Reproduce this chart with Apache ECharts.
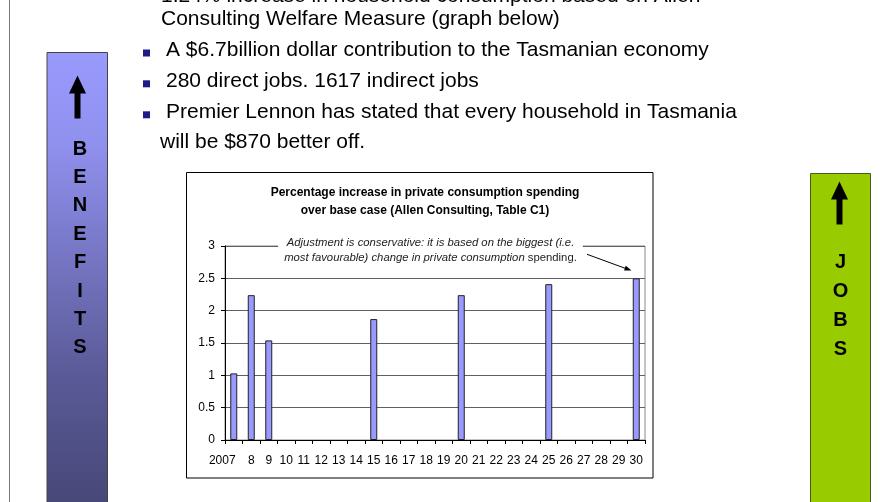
<!DOCTYPE html>
<html>
<head>
<meta charset="utf-8">
<script src="https://cdn.jsdelivr.net/npm/echarts@6/dist/echarts.min.js"></script>
<style>
  html, body { margin: 0; padding: 0; background: #fff; }
  #main { width: 894px; height: 502px; }
</style>
</head>
<body>
<div id="main"></div>
<script>
// chart data
var years = ['2007', '8', '9', '10', '11', '12', '13', '14', '15', '16', '17', '18', '19',
  '20', '21', '22', '23', '24', '25', '26', '27', '28', '29', '30'];
var pctIncrease = [1.03, 2.24, 1.54, null, null, null, null, null, 1.87, null, null, null, null,
  2.24, null, null, null, null, 2.41, null, null, null, null, 2.5];
var yMin = 0, yMax = 3, yStep = 0.5;

var chartTitle = 'Percentage increase in private consumption spending\nover base case (Allen Consulting, Table C1)';
var noteLine1 = 'Adjustment is conservative: it is based on the biggest (i.e.';
var noteLine2a = 'most favourable) change in private consumption';
var noteLine2b = ' spending.';

// slide text
var topLine = '1.24% increase in household consumption based on Allen';
var bulletTexts = [
  'A $6.7billion dollar contribution to the Tasmanian economy',
  '280 direct jobs. 1617 indirect jobs',
  'Premier Lennon has stated that every household in Tasmania'
];
var leftWord = 'BENEFITS';
var rightWord = 'JOBS';

var FONT = '"Liberation Sans", Arial, sans-serif';
var BODY = 21;

var myChart = echarts.init(document.getElementById('main'));

function upArrow(cx, top, fill) {
  return [
    { type: 'polygon', shape: { points: [[cx, top], [cx - 8.5, top + 18], [cx + 8.5, top + 18]] }, style: { fill: fill } },
    { type: 'rect', shape: { x: cx - 3, y: top + 16, width: 6, height: 27 }, style: { fill: fill } }
  ];
}

function letters(word, cx, y0, step) {
  return word.split('').map(function (ch, i) {
    return {
      type: 'text', x: cx, y: y0 + i * step,
      style: { text: ch, font: 'bold 20px ' + FONT, fill: '#000', align: 'center', verticalAlign: 'middle' }
    };
  });
}

// body text placed by its baseline
function bodyText(t, x, baseline) {
  return {
    type: 'text', x: x, y: baseline - BODY * 0.35,
    style: { text: t, font: BODY + 'px ' + FONT, fill: '#000', verticalAlign: 'middle' }
  };
}

var graphics = [];
// left rule
graphics.push({ type: 'line', shape: { x1: 9.5, y1: 0, x2: 9.5, y2: 502 }, style: { stroke: '#777', lineWidth: 1 } });

// benefits bar
graphics.push({
  type: 'rect', shape: { x: 47, y: 52.5, width: 60.5, height: 460 },
  style: {
    fill: new echarts.graphic.LinearGradient(0, 0, 0, 1, [
      { offset: 0, color: '#9a9aff' },
      { offset: 0.2, color: '#9090ee' },
      { offset: 0.7, color: '#5a5a98' },
      { offset: 1, color: '#464676' }
    ]),
    stroke: '#444', lineWidth: 1
  }
});
graphics = graphics.concat(upArrow(77.5, 75.5, '#000'));
graphics = graphics.concat(letters(leftWord, 80, 149, 28.4));

// jobs bar
graphics.push({
  type: 'rect', shape: { x: 810.5, y: 173.5, width: 60, height: 340 },
  style: { fill: '#99cc00', stroke: '#4a5a20', lineWidth: 1 }
});
graphics = graphics.concat(upArrow(839.5, 181.5, '#000'));
graphics = graphics.concat(letters(rightWord, 840.5, 262, 29.3));

// slide text
graphics.push(bodyText(topLine, 161, 4));
graphics.push(bodyText('Consulting Welfare Measure (graph below)', 161, 26.7));
var baselines = [57.5, 88.3, 119.3];
bulletTexts.forEach(function (t, i) {
  graphics.push({ type: 'rect', shape: { x: 143, y: baselines[i] - 8, width: 7, height: 7 }, style: { fill: '#1c1c88' } });
  graphics.push(bodyText(t, 166, baselines[i]));
});
graphics.push(bodyText('will be $870 better off.', 160, 149.3));

// chart frame
graphics.push({ type: 'rect', z: -10, shape: { x: 186.5, y: 172.5, width: 466.5, height: 305.5 }, style: { fill: '#fff', stroke: '#000', lineWidth: 1 } });

// annotation
graphics.push({
  type: 'text', z: 100, x: 430.5, y: 250.8,
  style: {
    text: '{i|' + noteLine1 + '}\n{i|' + noteLine2a + '}{n|' + noteLine2b + '}',
    align: 'center', verticalAlign: 'middle', lineHeight: 15,
    backgroundColor: '#fff', padding: [0, 6, 0, 6],
    rich: {
      i: { font: 'italic 11.3px ' + FONT, fill: '#222', lineHeight: 15 },
      n: { font: '11.3px ' + FONT, fill: '#222', lineHeight: 15 }
    }
  }
});
var ax1 = 587, ay1 = 254.3, ax2 = 631.5, ay2 = 270.6;
var dx = ax2 - ax1, dy = ay2 - ay1, len = Math.sqrt(dx * dx + dy * dy);
var ux = dx / len, uy = dy / len;
graphics.push({ type: 'line', z: 100, shape: { x1: ax1, y1: ay1, x2: ax2 - ux * 4, y2: ay2 - uy * 4 }, style: { stroke: '#000', lineWidth: 1 } });
graphics.push({
  type: 'polygon', z: 100,
  shape: { points: [[ax2, ay2], [ax2 - ux * 7 - uy * 2.5, ay2 - uy * 7 + ux * 2.5], [ax2 - ux * 7 + uy * 2.5, ay2 - uy * 7 - ux * 2.5]] },
  style: { fill: '#000' }
});

myChart.setOption({
  animation: false,
  backgroundColor: '#fff',
  textStyle: { fontFamily: FONT },
  title: {
    text: chartTitle,
    left: 420, top: 179, textAlign: 'center',
    textStyle: { fontSize: 12, fontWeight: 'bold', color: '#000', lineHeight: 18, fontFamily: FONT }
  },
  grid: {
    left: 225, top: 246, width: 420, height: 194,
    show: true, borderColor: '#888', borderWidth: 1, backgroundColor: 'transparent'
  },
  xAxis: {
    type: 'category',
    data: years,
    boundaryGap: true,
    axisLine: { lineStyle: { color: '#000', width: 1 } },
    axisTick: { show: true, interval: 0, length: 4, lineStyle: { color: '#000' } },
    axisLabel: {
      interval: 0, color: '#000', fontSize: 12, margin: 15, fontFamily: FONT,
      formatter: function (v, i) { return i === 0 ? '{first|' + v + '}' : v; },
      rich: { first: { fontSize: 12, color: '#000', padding: [0, 23, 0, 0] } }
    }
  },
  yAxis: {
    type: 'value',
    min: yMin, max: yMax, interval: yStep,
    axisLine: { show: true, lineStyle: { color: '#000', width: 1 } },
    axisTick: { show: true, length: 4, lineStyle: { color: '#000' } },
    axisLabel: { color: '#000', fontSize: 12, margin: 10, fontFamily: FONT },
    splitLine: { show: true, lineStyle: { color: '#606060', width: 1 } }
  },
  series: [{
    type: 'bar',
    data: pctIncrease,
    barWidth: 7,
    itemStyle: { color: '#9999ff', borderColor: '#222', borderWidth: 1 }
  }],
  graphic: graphics
});
</script>
</body>
</html>
